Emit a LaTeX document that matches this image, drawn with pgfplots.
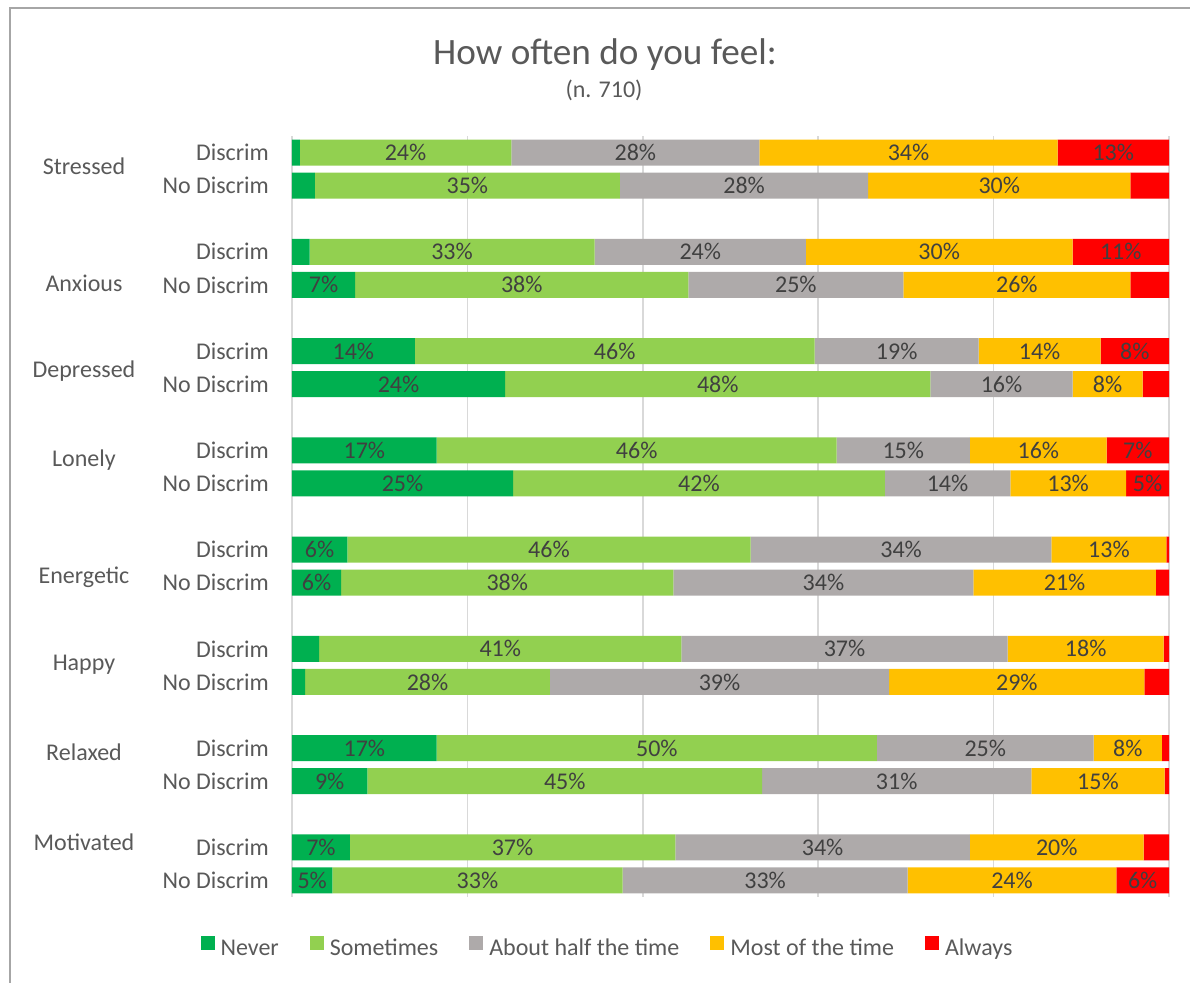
\documentclass[border=0pt]{standalone}
\usepackage{pgfplots}
\usepackage{pgfplotstable}
\pgfplotsset{compat=1.18}
\usepackage{fontspec}
\setmainfont{Carlito}
\definecolor{cNever}{HTML}{00B050}
\definecolor{cSome}{HTML}{92D050}
\definecolor{cHalf}{HTML}{AEAAAA}
\definecolor{cMost}{HTML}{FFC000}
\definecolor{cAlways}{HTML}{FF0000}
\definecolor{txt}{HTML}{595959}
\definecolor{lbl}{HTML}{404040}
\definecolor{gridc}{HTML}{D9D9D9}
\definecolor{border}{HTML}{A6A6A6}

\pgfplotstableread{
y  nv   st   ha   mo   al   nvl   stl   hal   mol   all
0  0.9  24.1 28.3 34.0 12.7 {}    24\%  28\%  34\%  13\%
1  2.6  34.8 28.3 29.9 4.4  {}    35\%  28\%  30\%  {}
3  2.0  32.5 24.1 30.4 11.0 {}    33\%  24\%  30\%  11\%
4  7.2  38.0 24.5 25.9 4.4  7\%   38\%  25\%  26\%  {}
6  14.0 45.6 18.7 13.9 7.8  14\%  46\%  19\%  14\%  8\%
7  24.3 48.5 16.2 8.0  3.0  24\%  48\%  16\%  8\%   {}
9  16.5 45.6 15.2 15.6 7.1  17\%  46\%  15\%  16\%  7\%
10 25.2 42.4 14.3 13.2 4.9  25\%  42\%  14\%  13\%  5\%
12 6.3  46.0 34.3 13.1 0.3  6\%   46\%  34\%  13\%  {}
13 5.6  37.9 34.2 20.8 1.5  6\%   38\%  34\%  21\%  {}
15 3.1  41.3 37.2 17.8 0.6  {}    41\%  37\%  18\%  {}
16 1.5  27.9 38.7 29.1 2.8  {}    28\%  39\%  29\%  {}
18 16.5 50.2 24.7 7.8  0.8  17\%  50\%  25\%  8\%   {}
19 8.6  45.0 30.7 15.2 0.5  9\%   45\%  31\%  15\%  {}
21 6.6  37.1 33.6 19.8 2.9  7\%   37\%  34\%  20\%  {}
22 4.6  33.1 32.5 23.8 6.0  5\%   33\%  33\%  24\%  6\%
}\data

\begin{document}
\begin{tikzpicture}
\path[use as bounding box] (0,0) rectangle (595pt,-491.5pt);
\draw[border, line width=0.75pt] (5pt,-491.5pt) -- (5pt,-4pt) -- (595pt,-4pt);
\node[text=txt, font=\fontsize{18.6}{22}\selectfont] at (302.5pt,-27.5pt) {How often do you feel:};
\node[text=txt, font=\fontsize{12}{14}\selectfont] at (302pt,-45pt) {(n. 710)};
\begin{axis}[
  at={(146pt,-448.5pt)}, anchor=south west,
  scale only axis, width=438.5pt, height=380.5pt,
  xbar stacked, bar width=0.785,
  xmin=0, xmax=100, ymin=-0.5, ymax=22.5, y dir=reverse,
  enlargelimits=false, clip=false,
  axis line style={draw=none},
  xtick={0,20,...,100}, xticklabels={},
  xmajorgrids, grid style={gridc, line width=0.75pt},
  major tick length=0,
  ytick={0,1,3,4,6,7,9,10,12,13,15,16,18,19,21,22},
  yticklabels={Discrim,No Discrim,Discrim,No Discrim,Discrim,No Discrim,Discrim,No Discrim,Discrim,No Discrim,Discrim,No Discrim,Discrim,No Discrim,Discrim,No Discrim},
  yticklabel style={text=txt, font=\fontsize{12}{14}\selectfont, xshift=-8pt},
  point meta=explicit symbolic,
  nodes near coords={\pgfplotspointmeta},
  every node near coord/.append style={anchor=center, text=lbl, font=\fontsize{12}{14}\selectfont},
  legend columns=5,
  legend style={at={(0.3603,-0.0683)}, anchor=center, draw=none, fill=none, inner sep=0pt,
    nodes={inner sep=1.5pt, text=txt, font=\fontsize{12}{14}\selectfont},
    /tikz/every even column/.append style={column sep=14pt}},
  legend image code/.code={\fill[#1, draw=none] (0pt,-0.5pt) rectangle (7pt,6.5pt); \path (8.5pt,3pt);},
]
\addplot[fill=cNever, draw=none] table[x=nv, y=y, meta=nvl] {\data};
\addplot[fill=cSome, draw=none] table[x=st, y=y, meta=stl] {\data};
\addplot[fill=cHalf, draw=none] table[x=ha, y=y, meta=hal] {\data};
\addplot[fill=cMost, draw=none] table[x=mo, y=y, meta=mol] {\data};
\addplot[fill=cAlways, draw=none] table[x=al, y=y, meta=all] {\data};
\legend{Never, Sometimes, About half the time, Most of the time, Always}
\end{axis}
\begin{scope}[every node/.style={text=txt, font=\fontsize{12}{14}\selectfont}]
\node at (42pt,-83pt) {Stressed};
\node at (42pt,-141.5pt) {Anxious};
\node at (42pt,-185.5pt) {Depressed};
\node at (42pt,-230pt) {Lonely};
\node at (42pt,-288.5pt) {Energetic};
\node at (42pt,-332.5pt) {Happy};
\node at (42pt,-376pt) {Relaxed};
\node at (42pt,-421pt) {Motivated};
\end{scope}
\end{tikzpicture}
\end{document}
